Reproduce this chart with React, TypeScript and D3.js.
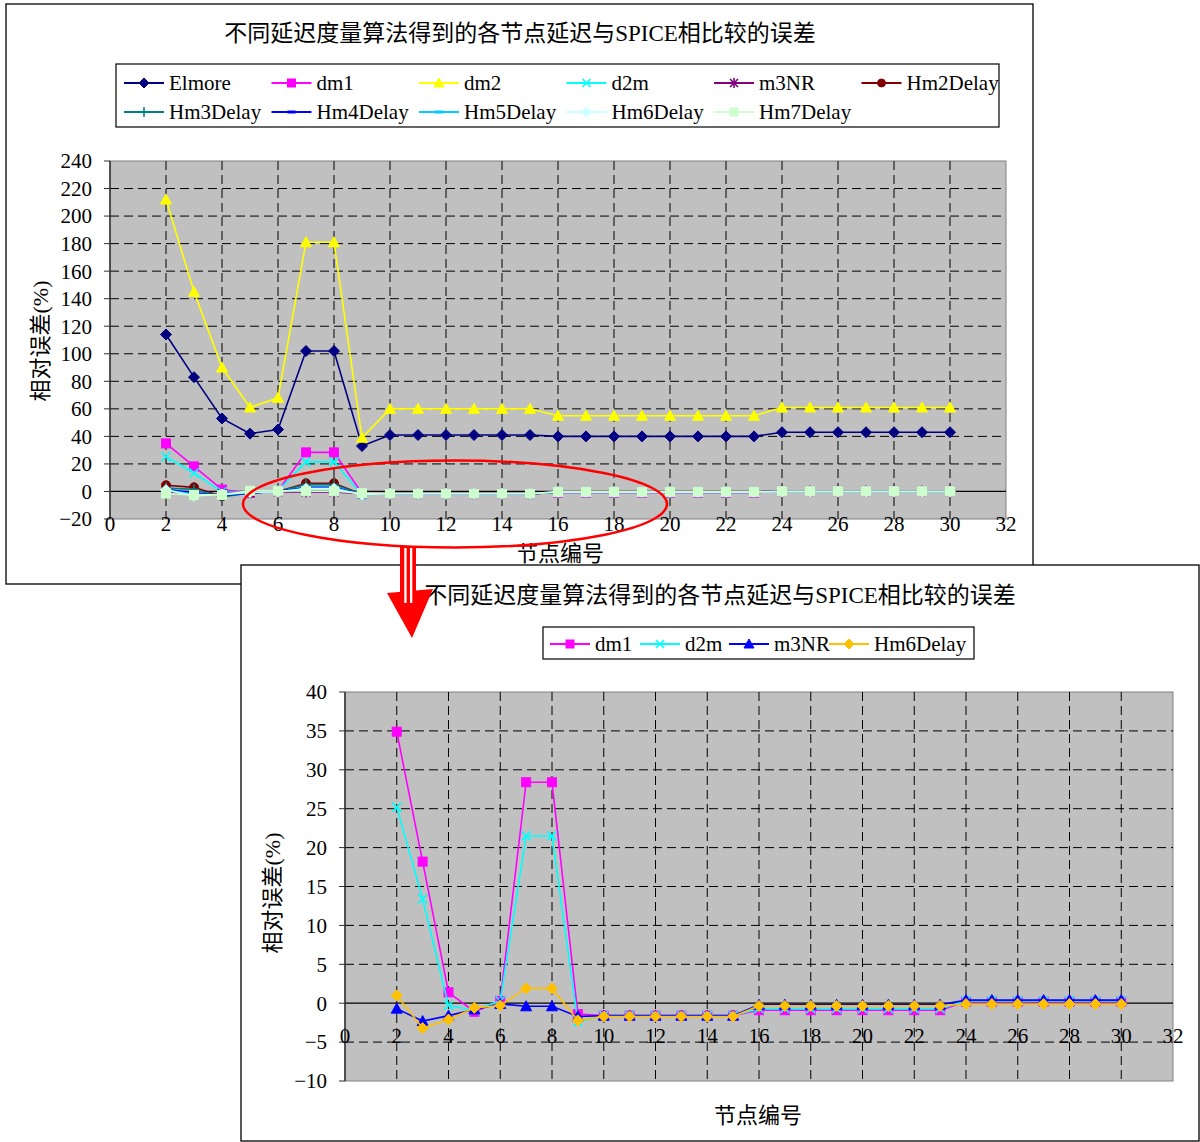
import React from 'react';
import * as d3 from 'd3';

// ---------- data ----------
const nodes = [2, 3, 4, 5, 6, 7, 8, 9, 10, 11, 12, 13, 14, 15, 16, 17, 18, 19, 20, 21, 22, 23, 24, 25, 26, 27, 28, 29, 30];

const elmore = [114, 83, 53, 42, 45, 102, 102, 33, 41, 41, 41, 41, 41, 41, 40, 40, 40, 40, 40, 40, 40, 40, 43, 43, 43, 43, 43, 43, 43];
const dm1 = [34.9, 18.2, 1.4, -1.1, 0.3, 28.4, 28.4, -1.4, -1.6, -1.6, -1.6, -1.6, -1.6, -1.6, -0.9, -0.9, -0.9, -0.9, -0.9, -0.9, -0.9, -0.9, 0.2, 0.2, 0.2, 0.2, 0.2, 0.2, 0.2];
const dm2 = [212, 145, 90, 61, 68, 181, 181, 39, 60, 60, 60, 60, 60, 60, 55, 55, 55, 55, 55, 55, 55, 55, 61, 61, 61, 61, 61, 61, 61];
const d2m = [25.2, 13.4, -0.3, -0.9, 0.3, 21.5, 21.5, -2.4, -1.6, -1.6, -1.6, -1.6, -1.6, -1.6, -0.7, -0.7, -0.7, -0.7, -0.7, -0.7, -0.7, -0.7, 0.3, 0.3, 0.3, 0.3, 0.3, 0.3, 0.3];
const m3NR = [-0.7, -2.3, -1.6, -0.8, -0.1, -0.4, -0.4, -1.7, -1.6, -1.6, -1.6, -1.6, -1.6, -1.6, -0.2, -0.2, -0.2, -0.2, -0.2, -0.2, -0.2, -0.2, 0.4, 0.4, 0.4, 0.4, 0.4, 0.4, 0.4];
const hm2Delay = [4.5, 3, -3.5, -1, 0, 6, 6, -2, -1.8, -1.8, -1.8, -1.8, -1.8, -1.8, -0.6, -0.6, -0.6, -0.6, -0.6, -0.6, -0.6, -0.6, 0, 0, 0, 0, 0, 0, 0];
const hm3Delay = [2.5, 1.5, -4, -1, 0, 5, 5, -2, -1.8, -1.8, -1.8, -1.8, -1.8, -1.8, -0.6, -0.6, -0.6, -0.6, -0.6, -0.6, -0.6, -0.6, 0, 0, 0, 0, 0, 0, 0];
const hm4Delay = [1.5, -1, -3, -1, 0, 3, 3, -2, -1.7, -1.7, -1.7, -1.7, -1.7, -1.7, -0.4, -0.4, -0.4, -0.4, -0.4, -0.4, -0.4, -0.4, 0.1, 0.1, 0.1, 0.1, 0.1, 0.1, 0.1];
const hm5Delay = [1.2, -2, -2.5, -0.8, -0.2, 2.4, 2.4, -2.2, -1.7, -1.7, -1.7, -1.7, -1.7, -1.7, -0.4, -0.4, -0.4, -0.4, -0.4, -0.4, -0.4, -0.4, 0, 0, 0, 0, 0, 0, 0];
const hm6Delay = [1.0, -3.2, -2.1, -0.6, -0.3, 1.9, 1.9, -2.2, -1.7, -1.7, -1.7, -1.7, -1.7, -1.7, -0.35, -0.35, -0.35, -0.35, -0.35, -0.35, -0.35, -0.35, -0.1, -0.1, -0.1, -0.1, -0.1, -0.1, -0.1];
const hm7Delay = [-1.5, -2.5, -2.5, 0.5, 0.5, 0.2, 0.2, -1.2, -1.5, -1.5, -1.5, -1.5, -1.5, -1.5, -0.3, -0.3, -0.3, -0.3, -0.3, -0.3, -0.3, -0.3, 0.2, 0.2, 0.2, 0.2, 0.2, 0.2, 0.2];

const xTicks = [0, 2, 4, 6, 8, 10, 12, 14, 16, 18, 20, 22, 24, 26, 28, 30, 32];
const topYTicks = [-20, 0, 20, 40, 60, 80, 100, 120, 140, 160, 180, 200, 220, 240];
const bottomYTicks = [-10, -5, 0, 5, 10, 15, 20, 25, 30, 35, 40];

const titleText = '不同延迟度量算法得到的各节点延迟与SPICE相比较的误差';
const yTitle = '相对误差(%)';
const xTitle = '节点编号';

type MarkerType = 'diamond' | 'square' | 'triangle' | 'x' | 'star' | 'circle' | 'plus' | 'dash';
interface Series { name: string; values: number[]; color: string; marker: MarkerType; }

const topSeries: Series[] = [
  { name: 'Elmore', values: elmore, color: '#000080', marker: 'diamond' },
  { name: 'dm1', values: dm1, color: '#FF00FF', marker: 'square' },
  { name: 'dm2', values: dm2, color: '#FFFF00', marker: 'triangle' },
  { name: 'd2m', values: d2m, color: '#00FFFF', marker: 'x' },
  { name: 'm3NR', values: m3NR, color: '#800080', marker: 'star' },
  { name: 'Hm2Delay', values: hm2Delay, color: '#800000', marker: 'circle' },
  { name: 'Hm3Delay', values: hm3Delay, color: '#008080', marker: 'plus' },
  { name: 'Hm4Delay', values: hm4Delay, color: '#0000FF', marker: 'dash' },
  { name: 'Hm5Delay', values: hm5Delay, color: '#00CCFF', marker: 'dash' },
  { name: 'Hm6Delay', values: hm6Delay, color: '#CCFFFF', marker: 'diamond' },
  { name: 'Hm7Delay', values: hm7Delay, color: '#CCFFCC', marker: 'square' },
];

const bottomSeries: Series[] = [
  { name: 'dm1', values: dm1, color: '#FF00FF', marker: 'square' },
  { name: 'd2m', values: d2m, color: '#00FFFF', marker: 'x' },
  { name: 'm3NR', values: m3NR, color: '#0000FF', marker: 'triangle' },
  { name: 'Hm6Delay', values: hm6Delay, color: '#FFC000', marker: 'diamond' },
];

const FONT = 'Liberation Serif, Times New Roman, Tinos, DejaVu Serif, Noto Sans CJK SC, serif';

function Marker({ type, x, y, color, size = 9 }: { type: MarkerType; x: number; y: number; color: string; size?: number }) {
  const h = size / 2;
  switch (type) {
    case 'diamond':
      return <polygon points={`${x},${y - h - 1} ${x + h + 1},${y} ${x},${y + h + 1} ${x - h - 1},${y}`} fill={color} stroke={color} />;
    case 'square':
      return <rect x={x - h} y={y - h} width={size} height={size} fill={color} stroke={color} />;
    case 'triangle':
      return <polygon points={`${x},${y - h - 1} ${x + h + 1},${y + h} ${x - h - 1},${y + h}`} fill={color} stroke={color} />;
    case 'x':
      return (
        <g stroke={color} strokeWidth={1.6}>
          <line x1={x - h} y1={y - h} x2={x + h} y2={y + h} />
          <line x1={x - h} y1={y + h} x2={x + h} y2={y - h} />
        </g>
      );
    case 'star':
      return (
        <g stroke={color} strokeWidth={1.6}>
          <line x1={x - h} y1={y - h} x2={x + h} y2={y + h} />
          <line x1={x - h} y1={y + h} x2={x + h} y2={y - h} />
          <line x1={x} y1={y - h - 1} x2={x} y2={y + h + 1} />
        </g>
      );
    case 'circle':
      return <circle cx={x} cy={y} r={h} fill={color} stroke={color} />;
    case 'plus':
      return (
        <g stroke={color} strokeWidth={1.6}>
          <line x1={x - h} y1={y} x2={x + h} y2={y} />
          <line x1={x} y1={y - h - 1} x2={x} y2={y + h + 1} />
        </g>
      );
    case 'dash':
      return <rect x={x - h} y={y - 1.5} width={size} height={3} fill={color} />;
  }
  return null;
}

function Plot({ x0, x1, y0, y1, yDomain, yTicks, series }: {
  x0: number; x1: number; y0: number; y1: number; yDomain: [number, number]; yTicks: number[]; series: Series[];
}) {
  const xs = d3.scaleLinear().domain([0, 32]).range([x0, x1]);
  const ys = d3.scaleLinear().domain(yDomain).range([y1, y0]);
  const line = d3.line<number>().x((_, i) => xs(nodes[i])).y((d) => ys(d));
  const zeroY = ys(0);
  return (
    <g>
      <rect x={x0} y={y0} width={x1 - x0} height={y1 - y0} fill="#C0C0C0" stroke="#808080" strokeWidth={1} />
      {yTicks.filter((t) => t !== yDomain[0] && t !== yDomain[1] && t !== 0).map((t) => (
        <line key={'hy' + t} x1={x0} x2={x1} y1={ys(t)} y2={ys(t)} stroke="#000" strokeDasharray="9,5" strokeWidth={1} />
      ))}
      {xTicks.filter((t) => t !== 0 && t !== 32).map((t) => (
        <line key={'vx' + t} x1={xs(t)} x2={xs(t)} y1={y0} y2={y1} stroke="#000" strokeDasharray="9,5" strokeWidth={1} />
      ))}
      <line x1={x0} x2={x1} y1={zeroY} y2={zeroY} stroke="#000" strokeWidth={1.2} />
      <line x1={x0} x2={x0} y1={y0} y2={y1} stroke="#303030" strokeWidth={1.5} />
      {yTicks.map((t) => (
        <g key={'yt' + t}>
          <line x1={x0 - 6} x2={x0} y1={ys(t)} y2={ys(t)} stroke="#303030" strokeWidth={1} />
          <text x={x0 - 18} y={ys(t)} dy="0.35em" textAnchor="end" fontSize={21} style={{ fontFamily: FONT }} fill="#000">
            {t < 0 ? '\u2212' + Math.abs(t) : String(t)}
          </text>
        </g>
      ))}
      {xTicks.map((t) => (
        <text key={'xt' + t} x={xs(t)} y={zeroY + 32} dy="0.35em" textAnchor="middle" fontSize={21} style={{ fontFamily: FONT }} fill="#000">
          {t}
        </text>
      ))}
      {series.map((s) => (
        <g key={s.name}>
          <path d={line(s.values) || ''} fill="none" stroke={s.color} strokeWidth={1.6} />
          {s.values.map((v, i) => (
            <Marker key={i} type={s.marker} x={xs(nodes[i])} y={ys(v)} color={s.color} />
          ))}
        </g>
      ))}
    </g>
  );
}

function LegendItem({ s, x, y }: { s: Series; x: number; y: number }) {
  return (
    <g>
      <line x1={x} x2={x + 40} y1={y} y2={y} stroke={s.color} strokeWidth={2} />
      <Marker type={s.marker} x={x + 20} y={y} color={s.color} size={8} />
      <text x={x + 45} y={y} dy="0.35em" fontSize={21} style={{ fontFamily: FONT }} fill="#000">{s.name}</text>
    </g>
  );
}

export default function App() {
  const T = { fontFamily: FONT };
  return (
    <svg width={1200} height={1142} style={{ position: 'absolute', left: 0, top: 0, background: '#fff' }}>
      {/* top panel */}
      <rect x={6} y={4} width={1027} height={580} fill="#fff" stroke="#000" strokeWidth={1.3} />
      <text x={520} y={33} dy="0.35em" textAnchor="middle" fontSize={23} style={T}>{titleText}</text>
      <rect x={116} y={64} width={883} height={63} fill="#fff" stroke="#000" strokeWidth={1.2} />
      {topSeries.map((s, i) => (
        <LegendItem key={s.name} s={s} x={124 + (i % 6) * 147.5} y={i < 6 ? 83 : 112} />
      ))}
      <Plot x0={110} x1={1006} y0={161} y1={519} yDomain={[-20, 240]} yTicks={topYTicks} series={topSeries} />
      <text transform="translate(40,341) rotate(-90)" dy="0.35em" textAnchor="middle" fontSize={22} style={T}>{yTitle}</text>
      <text x={560} y={553} dy="0.35em" textAnchor="middle" fontSize={22} style={T}>{xTitle}</text>
      <ellipse cx={455} cy={504} rx={212} ry={43.5} fill="none" stroke="#FF0000" strokeWidth={2.5} />

      {/* bottom panel */}
      <rect x={241} y={565} width={958} height={576} fill="#fff" stroke="#000" strokeWidth={1.3} />
      <text x={720} y={595} dy="0.35em" textAnchor="middle" fontSize={23} style={T}>{titleText}</text>
      <rect x={543} y={627} width={431} height={32} fill="#fff" stroke="#000" strokeWidth={1.2} />
      {bottomSeries.map((s, i) => (
        <LegendItem key={s.name} s={s} x={[550, 640, 729, 829][i]} y={644} />
      ))}
      <Plot x0={345} x1={1173} y0={692} y1={1081} yDomain={[-10, 40]} yTicks={bottomYTicks} series={bottomSeries} />
      <text transform="translate(272,893) rotate(-90)" dy="0.35em" textAnchor="middle" fontSize={22} style={T}>{yTitle}</text>
      <text x={758} y={1115} dy="0.35em" textAnchor="middle" fontSize={22} style={T}>{xTitle}</text>

      {/* arrow */}
      <polygon points="387,593 433,589 412,638" fill="#FF0000" />
      <rect x={400} y={546} width={16} height={58} fill="#FF0000" />
      <rect x={404.3} y={548} width={2.3} height={55} fill="#fff" />
      <rect x={410} y={548} width={2.3} height={55} fill="#fff" />
    </svg>
  );
}
